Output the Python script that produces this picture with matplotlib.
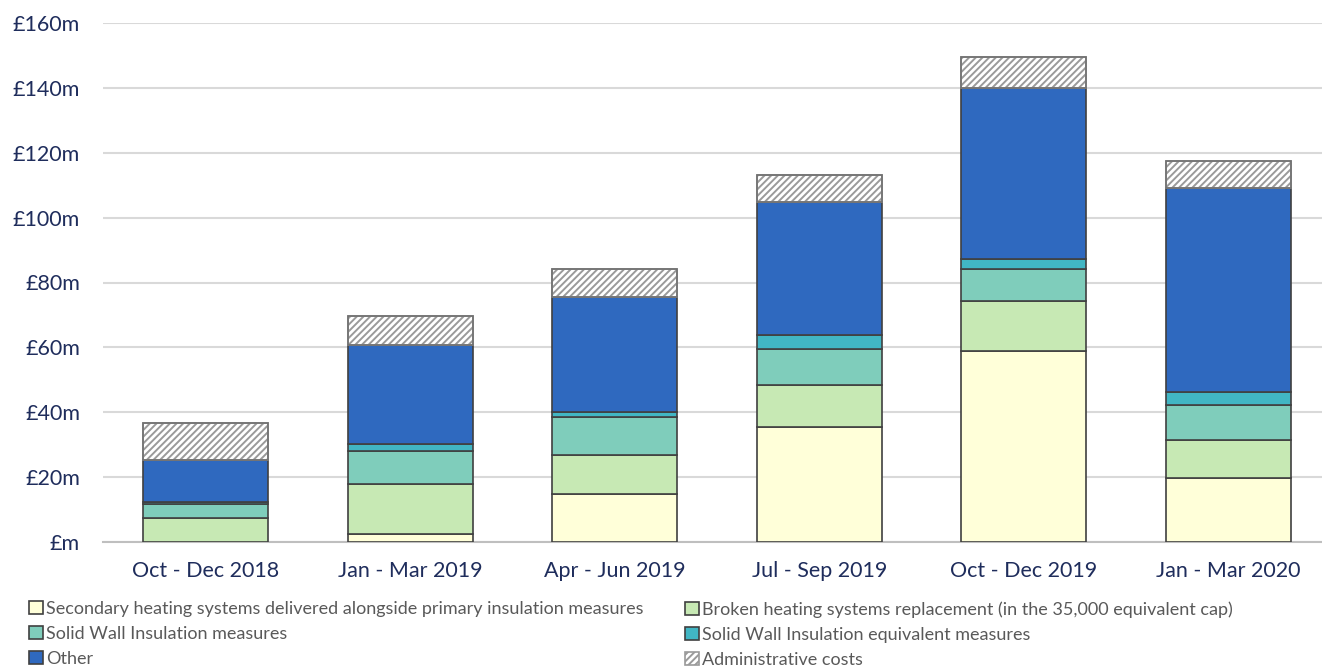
import matplotlib
matplotlib.use("Agg")
import matplotlib.pyplot as plt
import numpy as np

# quarters on the x axis
quarters = ["Oct - Dec 2018", "Jan - Mar 2019", "Apr - Jun 2019",
            "Jul - Sep 2019", "Oct - Dec 2019", "Jan - Mar 2020"]

# spend per quarter, £m
secondary = [0.0, 2.4, 14.8, 35.4, 59.0, 19.7]
broken = [7.5, 15.5, 12.0, 13.0, 15.3, 11.7]
swi = [4.1, 10.2, 11.7, 11.1, 9.8, 10.8]
swi_equiv = [0.7, 2.2, 1.6, 4.3, 3.1, 4.0]
other = [12.9, 30.4, 35.4, 41.0, 52.8, 63.0]
admin = [11.4, 9.0, 8.7, 8.3, 9.6, 8.2]

series_names = ["Secondary heating systems delivered alongside primary insulation measures",
                "Broken heating systems replacement (in the 35,000 equivalent cap)",
                "Solid Wall Insulation measures",
                "Solid Wall Insulation equivalent measures",
                "Other",
                "Administrative costs"]

y_ticks = [0, 20, 40, 60, 80, 100, 120, 140, 160]
y_labels = ["£m", "£20m", "£40m", "£60m", "£80m", "£100m", "£120m", "£140m", "£160m"]

colors = ["#FFFFD9", "#C7E9B4", "#7FCDBB", "#41B6C4", "#2F69BF", "white"]

plt.rcParams['font.family'] = ['Lato', 'DejaVu Sans']
plt.rcParams['hatch.linewidth'] = 1.4

fig = plt.figure(figsize=(13.22, 6.66), dpi=100)
ax = fig.add_axes([103/1322, 124/666, (1322-103)/1322, 519/666])

x = np.arange(len(quarters))
width = 0.61
bottom = np.zeros(len(quarters))
handles = []
all_series = [secondary, broken, swi, swi_equiv, other, admin]
for i, vals in enumerate(all_series):
    vals = np.array(vals)
    if i == 5:
        b = ax.bar(x, vals, width, bottom=bottom, color="white", edgecolor="#9A9A9A",
                   hatch="/////", linewidth=1.2, zorder=3, label=series_names[i])
        # darker outline on top of the light hatch
        ax.bar(x, vals, width, bottom=bottom, color="none", edgecolor="#707070",
               linewidth=1.2, zorder=4)
    else:
        b = ax.bar(x, vals, width, bottom=bottom, color=colors[i], edgecolor="#404040",
                   linewidth=1.2, zorder=3, label=series_names[i])
    handles.append(b)
    bottom = bottom + vals

ax.set_xlim(-0.501, 5.457)
ax.set_ylim(0, 160)
ax.set_yticks(y_ticks)
ax.set_yticklabels(y_labels)
ax.set_xticks(x)
ax.set_xticklabels(quarters)
ax.tick_params(axis='both', length=0, labelsize=15.5, labelcolor="#1F2D5C")
ax.tick_params(axis='y', pad=16.5)
ax.tick_params(axis='x', pad=14)
ax.yaxis.grid(True, color="#D9D9D9", linewidth=1.5, zorder=0)
ax.set_axisbelow(True)
for s in ["top", "right", "left"]:
    ax.spines[s].set_visible(False)
ax.spines["bottom"].set_color("#BFBFBF")
ax.spines["bottom"].set_linewidth(1.5)

leg_kw = dict(frameon=False, fontsize=13, labelcolor="#595959", handlelength=0.75,
              handleheight=0.75, handletextpad=0.2, labelspacing=0.5, borderpad=0,
              borderaxespad=0, loc="upper left")
fig.legend([handles[0], handles[2], handles[4]],
           [series_names[0], series_names[2], series_names[4]],
           bbox_to_anchor=(29/1322, 1 - 601/666), **leg_kw)
fig.legend([handles[1], handles[3], handles[5]],
           [series_names[1], series_names[3], series_names[5]],
           bbox_to_anchor=(685/1322, 1 - 601/666), **leg_kw)

fig.savefig("out.png", dpi=100)
